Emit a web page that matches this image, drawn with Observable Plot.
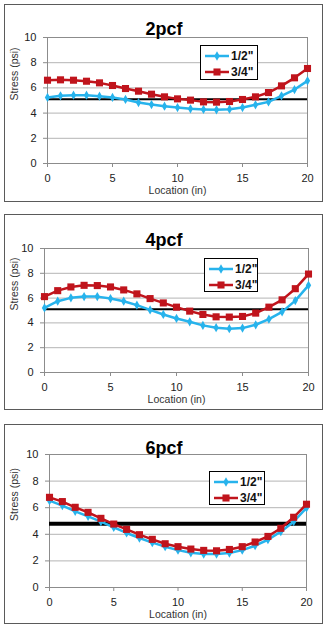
<!DOCTYPE html>
<html><head><meta charset="utf-8">
<script src="https://cdn.jsdelivr.net/npm/d3@7"></script>
<script src="https://cdn.jsdelivr.net/npm/@observablehq/plot@0.6"></script>
<style>
body{margin:0;background:#fff;font-family:"Liberation Sans",Arial,sans-serif}
#root{position:relative;width:326px;height:628px;overflow:hidden}
.panel{position:absolute;left:4px;width:319px}
.panel svg{display:block}
.frame{position:absolute;left:0;top:0;right:0;bottom:0;border:1px solid #5a5a5a;pointer-events:none}
.legend{position:absolute;border:1px solid #000;background:#fff;box-sizing:border-box;font:bold 12px "Liberation Sans",Arial,sans-serif;color:#111}
.legend .row{position:absolute;left:4px;height:14px;display:flex;align-items:center}
.legend .row svg{margin-right:2px}
</style></head>
<body><div id="root"></div>
<script>
const location_in = [0,1,2,3,4,5,6,7,8,9,10,11,12,13,14,15,16,17,18,19,20];
const seriesNames = ["1/2\"", "3/4\""];
const panelTitles = ["2pcf", "4pcf", "6pcf"];
const xTicks = [0,5,10,15,20];
const yTicks = [0,2,4,6,8,10];
const refStress = [5.1, 5.1, 4.8];

const pcf2_half = [5.24,5.37,5.42,5.42,5.34,5.24,5.08,4.84,4.68,4.55,4.44,4.34,4.29,4.26,4.31,4.44,4.66,4.89,5.37,5.87,6.56];
const pcf2_3q   = [6.61,6.64,6.61,6.53,6.40,6.19,5.95,5.74,5.50,5.29,5.13,5.03,4.89,4.87,4.92,5.08,5.29,5.63,6.16,6.80,7.54];
const pcf4_half = [5.21,5.75,6.02,6.12,6.12,5.96,5.75,5.43,5.05,4.68,4.36,4.09,3.80,3.61,3.53,3.58,3.85,4.30,4.89,5.80,7.03];
const pcf4_3q   = [6.12,6.60,6.90,7.03,7.01,6.90,6.66,6.34,5.96,5.61,5.27,4.95,4.68,4.49,4.47,4.52,4.79,5.27,5.86,6.76,7.94];
const pcf6_half = [6.53,6.16,5.73,5.35,4.95,4.52,4.10,3.72,3.37,3.07,2.81,2.61,2.51,2.51,2.59,2.81,3.14,3.59,4.20,4.95,5.98];
const pcf6_3q   = [6.78,6.46,6.03,5.65,5.20,4.77,4.37,3.97,3.62,3.29,3.07,2.89,2.79,2.76,2.86,3.07,3.42,3.84,4.45,5.28,6.26];

const BLUE = "#27b3ec", RED = "#c0141c";
const seriesValues = [[pcf2_half, pcf2_3q],[pcf4_half, pcf4_3q],[pcf6_half, pcf6_3q]];

const layout = [
  {top:4,   h:198, mL:43, mR:16, mT:33, mB:39, titleY:18, refW:2, leg:{x:196,y:41,w:58,h:35}},
  {top:214, h:196, mL:40, mR:15, mT:34, mB:38, titleY:19, refW:2, leg:{x:200,y:44,w:54,h:34}},
  {top:424, h:200, mL:45, mR:17, mT:30, mB:37, titleY:17, refW:4, leg:{x:205,y:47,w:56,h:34}}
];

const root = document.getElementById("root");
const W = 319;

layout.forEach((L, i) => {
  const rows = [];
  seriesValues[i].forEach((vals, s) => {
    vals.forEach((v, k) => rows.push({x: location_in[k], y: v, series: seriesNames[s]}));
  });
  const half = rows.filter(d => d.series === seriesNames[0]);
  const q3 = rows.filter(d => d.series === seriesNames[1]);
  const frameCenter = L.mL + (W - L.mL - L.mR) / 2;
  const plot = Plot.plot({
    width: W, height: L.h,
    marginLeft: L.mL, marginRight: L.mR, marginTop: L.mT, marginBottom: L.mB,
    style: {fontFamily: "'Liberation Sans', Arial, sans-serif", fontSize: "11px", color: "#222", background: "#fff"},
    x: {domain: [0, 20]},
    y: {domain: [0, 10]},
    marks: [
      Plot.gridY(yTicks.slice(1), {stroke: "#b4b4b4", strokeOpacity: 1}),
      Plot.frame({stroke: "#8c8c8c"}),
      Plot.axisY({ticks: yTicks, tickSize: 4, tickPadding: 7, label: null, stroke: "#8c8c8c", fill: "#222", fontSize: 11}),
      Plot.axisX({ticks: xTicks, tickSize: 4, tickPadding: 7, label: null, stroke: "#8c8c8c", fill: "#222", fontSize: 11}),
      Plot.text(["Location (in)"], {text: d => d, frameAnchor: "bottom", dy: 30, fontSize: 10.5, fill: "#333"}),
      Plot.text(["Stress (psi)"], {text: d => d, frameAnchor: "left", dx: 10 - L.mL, rotate: -90, fontSize: 10.5, fill: "#333"}),
      Plot.text([panelTitles[i]], {text: d => d, frameAnchor: "top", dx: W / 2 - frameCenter, dy: L.titleY - L.mT, fontSize: 18, fontWeight: "bold", fill: "#000"}),
      Plot.ruleY([refStress[i]], {stroke: "#000", strokeWidth: L.refW}),
      Plot.line(half, {x: "x", y: "y", stroke: BLUE, strokeWidth: 2.5}),
      Plot.dot(half, {x: "x", y: "y", symbol: "diamond", r: 2.8, fill: BLUE, stroke: "none"}),
      Plot.line(q3, {x: "x", y: "y", stroke: RED, strokeWidth: 2.5}),
      Plot.dot(q3, {x: "x", y: "y", symbol: "square", r: 4, fill: RED, stroke: "none"})
    ]
  });
  const panel = document.createElement("div");
  panel.className = "panel";
  panel.style.top = L.top + "px";
  panel.style.height = L.h + "px";
  panel.appendChild(plot);
  const fr = document.createElement("div");
  fr.className = "frame";
  panel.appendChild(fr);

  const leg = document.createElement("div");
  leg.className = "legend";
  Object.assign(leg.style, {left: L.leg.x + "px", top: L.leg.y + "px", width: L.leg.w + "px", height: L.leg.h + "px"});
  [[BLUE, "diamond"], [RED, "square"]].forEach(([c, sym], s) => {
    const row = document.createElement("div");
    row.className = "row";
    row.style.top = (3 + s * 16) + "px";
    const ns = "http://www.w3.org/2000/svg";
    const sv = document.createElementNS(ns, "svg");
    sv.setAttribute("width", 24); sv.setAttribute("height", 12);
    const ln = document.createElementNS(ns, "line");
    ln.setAttribute("x1", 0); ln.setAttribute("x2", 24); ln.setAttribute("y1", 6); ln.setAttribute("y2", 6);
    ln.setAttribute("stroke", c); ln.setAttribute("stroke-width", 2.5);
    sv.appendChild(ln);
    const p = document.createElementNS(ns, "path");
    const gen = d3.symbol(sym === "square" ? d3.symbolSquare : d3.symbolDiamond, sym === "square" ? 50 : 26);
    p.setAttribute("d", gen());
    p.setAttribute("transform", "translate(12,6)");
    p.setAttribute("fill", c);
    sv.appendChild(p);
    row.appendChild(sv);
    const t = document.createElement("span");
    t.textContent = seriesNames[s];
    row.appendChild(t);
    leg.appendChild(row);
  });
  panel.appendChild(leg);
  root.appendChild(panel);
});
</script></body></html>
